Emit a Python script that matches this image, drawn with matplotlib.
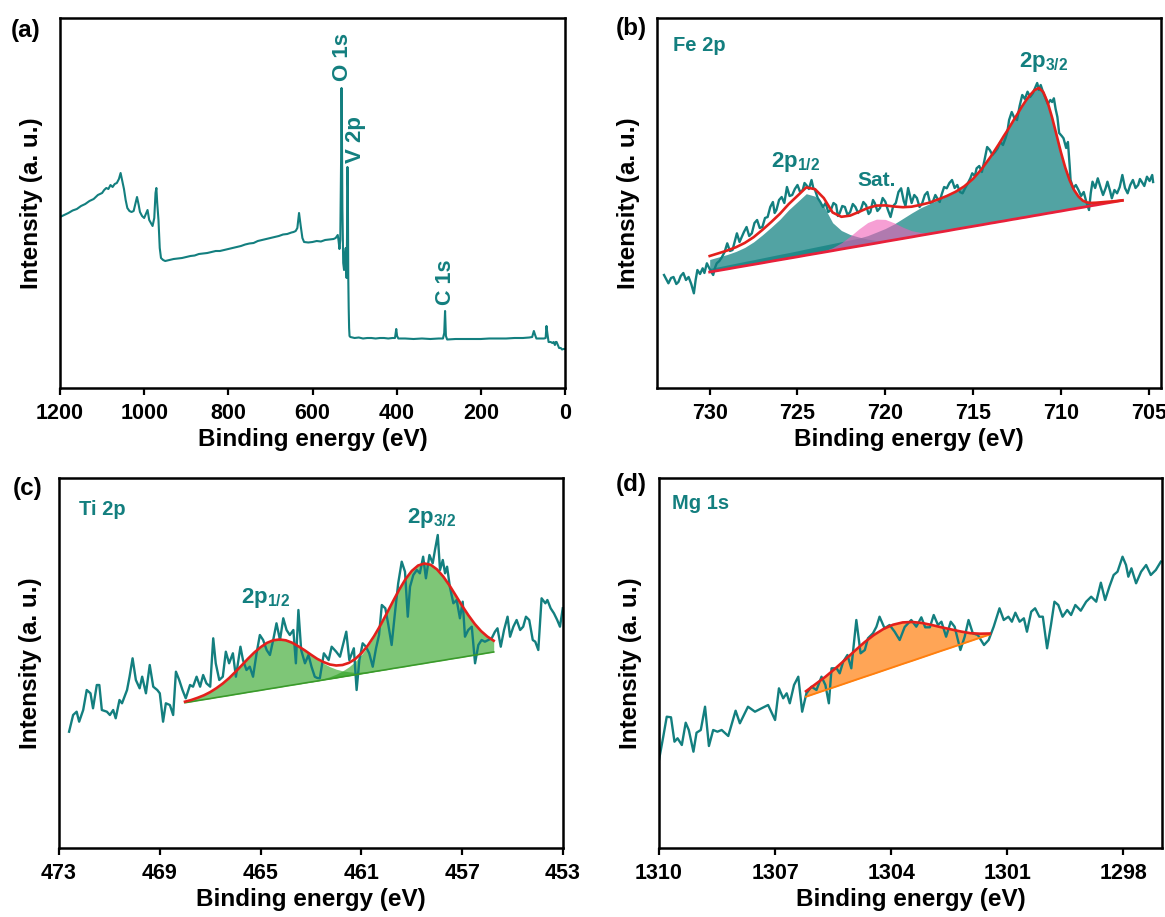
import matplotlib
matplotlib.use('Agg')
import matplotlib.pyplot as plt
import numpy as np

plt.rcParams['font.family'] = ['Liberation Sans', 'DejaVu Sans']
plt.rcParams['font.weight'] = 'bold'
plt.rcParams['mathtext.fontset'] = 'custom'
plt.rcParams['mathtext.rm'] = 'Liberation Sans:bold'
plt.rcParams['mathtext.bf'] = 'Liberation Sans:bold'
plt.rcParams['mathtext.it'] = 'Liberation Sans:bold'

# ---------------- (a) survey ----------------
survey_e = [1200, 1190, 1180, 1170, 1160, 1150, 1140, 1130, 1120, 1110, 1100, 1095, 1090, 1085,
            1080, 1075, 1070, 1065, 1060, 1056, 1052, 1048, 1044, 1040, 1035, 1030, 1025, 1020,
            1017, 1013, 1010, 1005, 1000, 996, 992, 988, 984, 980, 976, 973, 971, 969, 966, 963,
            960, 955, 950, 940, 930, 920, 910, 900, 890, 880, 870, 860, 850, 840, 830, 820, 810,
            800, 790, 780, 770, 760, 750, 740, 730, 720, 710, 700, 690, 680, 670, 660, 650, 645,
            640, 636, 632, 628, 624, 620, 610, 600, 590, 580, 570, 560, 550, 545, 540, 538, 536,
            534, 532, 531, 530, 529, 527, 525, 523, 521, 519, 518, 517, 516, 515, 514, 513, 512,
            510, 500, 490, 480, 470, 460, 450, 440, 430, 420, 410, 404, 401, 399, 396, 380, 360,
            340, 320, 300, 290, 287, 285, 283, 280, 260, 240, 220, 200, 180, 160, 140, 120, 100,
            85, 78, 74, 71, 68, 60, 50, 46, 44, 42, 39, 34, 30, 27, 24, 22, 20, 17, 14, 10, 7, 4, 0]
survey_i = [171, 173, 175, 177.5, 179, 182, 184, 187, 189, 193, 195, 198, 200, 199,
            203, 201, 204, 205, 209, 215, 207, 199, 188, 180, 177, 176, 177, 186,
            191, 183, 176, 172, 170, 174, 178, 168, 165, 162, 170, 195, 200, 185, 168, 140,
            130, 128, 127, 128, 129, 129.5, 130, 131, 132, 132.5, 134, 134.5, 135, 136, 137, 137, 138,
            139, 140, 141, 142, 143.5, 144.5, 145, 147, 148, 149, 150, 151, 152, 153.5, 154, 155.5, 156,
            157, 160, 175, 162, 150, 146, 145.5, 146, 147, 146.5, 148, 148.5, 149, 150, 153, 147, 139,
            148, 230, 300, 250, 180, 125, 118, 132, 140, 110, 150, 221, 200, 110, 80, 60, 52,
            51, 50, 50.5, 49.5, 50, 50, 49.5, 50, 50, 49.5, 50, 50, 59, 52, 49.5, 49.5, 49,
            49.5, 49, 49.5, 49.5, 55, 77, 52, 48.5, 49, 49, 49, 49, 49.5, 49.5, 49.5, 50, 50,
            50.5, 51, 57, 53, 49.5, 49.5, 49.5, 50, 62, 55, 46, 46, 45, 46, 43, 46, 46, 43, 40, 40, 38.5, 39, 39]

# ---------------- (b) Fe 2p ----------------
fe_raw = [
    (732.6, 113), (732.45, 108), (732.35, 104.7), (732.2, 110), (732.06, 111), (731.9, 104),
    (731.78, 106), (731.65, 112), (731.5, 115), (731.35, 108), (731.2, 111), (731.05, 104),
    (730.9, 94.7), (730.8, 108), (730.7, 118), (730.55, 114), (730.4, 119.7), (730.3, 115),
    (730.16, 124.7), (729.97, 118), (729.8, 113), (729.7, 120), (729.6, 124.7), (729.45, 127),
    (729.3, 131), (729.15, 136), (729.0, 144.7), (728.85, 137), (728.7, 138), (728.55, 148),
    (728.45, 154.7), (728.3, 146), (728.2, 150), (728.05, 156), (727.9, 161), (727.75, 152),
    (727.6, 154.7), (727.45, 165), (727.3, 168), (727.15, 160), (727.0, 161), (726.85, 170),
    (726.7, 171), (726.55, 181), (726.4, 186), (726.3, 175), (726.2, 178), (726.05, 188),
    (725.9, 191), (725.75, 185), (725.6, 201), (725.45, 192), (725.3, 193), (725.15, 199),
    (725.0, 203), (724.85, 196), (724.7, 198), (724.6, 205), (724.5, 203), (724.35, 199),
    (724.2, 208), (724.1, 200), (724.0, 198), (723.85, 190), (723.7, 186), (723.55, 181),
    (723.4, 185), (723.25, 176), (723.1, 178), (722.95, 185), (722.8, 183), (722.7, 172),
    (722.6, 174.7), (722.45, 182), (722.3, 181), (722.15, 173), (722.0, 176), (721.85, 184),
    (721.7, 181), (721.55, 175), (721.4, 178), (721.25, 186), (721.1, 183), (720.95, 174),
    (720.85, 176), (720.7, 188), (720.6, 185), (720.45, 177), (720.3, 180), (720.15, 190),
    (720.0, 186.3), (719.85, 178), (719.7, 171), (719.55, 182), (719.4, 185), (719.25, 196),
    (719.1, 199.7), (718.95, 187), (718.85, 182), (718.7, 200), (718.5, 185), (718.35, 193),
    (718.2, 190), (718.05, 181), (717.9, 184.7), (717.75, 193), (717.6, 196), (717.45, 185),
    (717.3, 186), (717.15, 193), (717.05, 190), (716.9, 186), (716.8, 193), (716.65, 201),
    (716.5, 199.7), (716.35, 205), (716.2, 208), (716.05, 200), (715.9, 203), (715.75, 196),
    (715.6, 194.7), (715.45, 200), (715.3, 204.7), (715.15, 210), (715.05, 214.7), (714.9, 212),
    (714.8, 219.7), (714.65, 222), (714.5, 216), (714.35, 228), (714.2, 241), (714.05, 238),
    (713.9, 233), (713.75, 236), (713.6, 239.7), (713.45, 246), (713.3, 243), (713.15, 250),
    (713.05, 256), (712.95, 268), (712.8, 276), (712.65, 270), (712.5, 268), (712.35, 282),
    (712.2, 293), (712.05, 289), (711.9, 296.3), (711.75, 291), (711.6, 294.7), (711.45, 301),
    (711.35, 305), (711.25, 298), (711.15, 303), (711.0, 295), (710.9, 291), (710.75, 284),
    (710.6, 288), (710.5, 286), (710.4, 289.7), (710.3, 279), (710.2, 271), (710.1, 255),
    (709.95, 252), (709.85, 249.7), (709.7, 240), (709.6, 246), (709.5, 222), (709.45, 208),
    (709.3, 199.7), (709.15, 203), (709.0, 198), (708.85, 192), (708.7, 196), (708.55, 186),
    (708.4, 178), (708.3, 195), (708.2, 206.3), (708.05, 200), (707.9, 209.7), (707.75, 201),
    (707.6, 193), (707.45, 200), (707.35, 206.3), (707.2, 197), (707.1, 189.7), (706.95, 198),
    (706.8, 194.7), (706.65, 201), (706.5, 213), (706.35, 200), (706.2, 194.7), (706.05, 203),
    (705.9, 208), (705.75, 200), (705.6, 203), (705.5, 209), (705.4, 206.3), (705.25, 202),
    (705.1, 211.3), (704.95, 207), (704.8, 213), (704.75, 206)]
fe_e = [p[0] for p in fe_raw]
fe_i = [p[1] for p in fe_raw]

fe_fit_e = [730.0, 729.5, 729.0, 728.5, 728.0, 727.5, 727.0, 726.5, 726.0, 725.5, 725.0, 724.5,
            724.0, 723.5, 723.0, 722.5, 722.0, 721.5, 721.0, 720.5, 720.0, 719.5, 719.0, 718.5,
            718.0, 717.5, 717.0, 716.5, 716.0, 715.5, 715.0, 714.5, 714.0, 713.75, 713.5, 713.25,
            713.0, 712.75, 712.5, 712.25, 712.0, 711.75, 711.5, 711.25, 711.0, 710.75, 710.5,
            710.25, 710.0, 709.75, 709.5, 709.25, 709.0, 708.75, 708.5, 708.25, 708.0, 707.5,
            707.0, 706.5]
fe_base = [116.0, 117.5, 119.0, 120.6, 122.1, 123.6, 125.1, 126.7, 128.2, 129.7, 131.2, 132.8,
           134.3, 135.8, 137.3, 138.9, 140.4, 141.9, 143.4, 144.9, 146.5, 148.0, 149.5, 151.0,
           152.6, 154.1, 155.6, 157.1, 158.7, 160.2, 161.7, 163.2, 164.8, 165.5, 166.3, 167.0,
           167.8, 168.6, 169.3, 170.1, 170.8, 171.6, 172.4, 173.1, 173.9, 174.7, 175.4,
           176.2, 176.9, 177.7, 178.5, 179.2, 180.0, 180.7, 181.5, 182.3, 183.0, 184.6,
           186.1, 187.6]
fe_p12 = [12.5, 13.5, 14.5, 16.0, 18.5, 22.5, 28.0, 34.0, 40.5, 48.5, 55.0, 61.5,
          57.5, 46.0, 28.0, 18.6, 13.0, 9.0, 5.5, 2.5, 1.0, 0.3, 0, 0,
          0, 0, 0, 0, 0, 0, 0, 0, 0, 0, 0, 0,
          0, 0, 0, 0, 0, 0, 0, 0, 0, 0, 0,
          0, 0, 0, 0, 0, 0, 0, 0, 0, 0, 0,
          0, 0]
fe_p32 = [3.5, 3.7, 4.0, 4.2, 4.5, 4.7, 5.0, 5.2, 5.5, 5.7, 6.0, 6.3,
          6.6, 6.9, 7.2, 7.4, 7.7, 8.0, 9.0, 11.0, 13.0, 16.0, 20.0, 24.0,
          27.5, 30.0, 32.5, 34.8, 37.5, 41.5, 47.5, 56.0, 66.5, 72.5, 78.5, 85.0,
          91.0, 97.5, 104.0, 110.5, 116.5, 121.5, 125.5, 127.0, 121.9, 110.7, 95.0,
          77.0, 58.9, 42.6, 29.1, 18.8, 11.5, 6.6, 4.0, 2.8, 2.3, 1.4,
          0.6, 0.0]
fe_sat = [0, 0, 0, 0, 0, 0, 0, 0, 0, 0, 0, 0,
          0.4, 1.2, 3.0, 6.3, 11.3, 17.2, 22.1, 24.0, 22.1, 17.2, 11.3, 6.3,
          3.0, 1.2, 0.4, 0.1, 0, 0, 0, 0, 0, 0, 0, 0,
          0, 0, 0, 0, 0, 0, 0, 0, 0, 0, 0,
          0, 0, 0, 0, 0, 0, 0, 0, 0, 0, 0,
          0, 0]

# ---------------- (c) Ti 2p ----------------
ti_raw = [
    (472.6, 116.3), (472.44, 133), (472.3, 136.3), (472.2, 126.3), (472.04, 138), (471.9, 158),
    (471.75, 154.7), (471.65, 139.7), (471.5, 163), (471.4, 163), (471.3, 138), (471.1, 136.3),
    (470.98, 133), (470.85, 138), (470.75, 129.7), (470.6, 148), (470.5, 144.7), (470.3, 158),
    (470.2, 171.3), (470.08, 189.7), (469.95, 168), (469.8, 159.7), (469.7, 171.3), (469.55, 154.7),
    (469.4, 183), (469.26, 161.3), (469.1, 158), (469.0, 154.7), (468.87, 126.3), (468.76, 144.7),
    (468.6, 143), (468.47, 133), (468.36, 176.3), (468.23, 168), (468.1, 158), (467.97, 149.7),
    (467.8, 163), (467.68, 161.3), (467.54, 171.3), (467.4, 161.3), (467.28, 173), (467.15, 164.7),
    (467.0, 161.3), (466.88, 209.7), (466.78, 184.7), (466.64, 168), (466.5, 171.3), (466.38, 196.3),
    (466.25, 184.7), (466.1, 194.7), (465.98, 171.3), (465.8, 201.3), (465.7, 188), (465.56, 178),
    (465.43, 181.3), (465.3, 171.3), (465.16, 194.7), (465.03, 213), (464.9, 208), (464.76, 198),
    (464.63, 193), (464.5, 208), (464.37, 224.7), (464.23, 208), (464.1, 229.7), (463.97, 218),
    (463.84, 213), (463.7, 218), (463.6, 184.7), (463.5, 238), (463.39, 198), (463.24, 184.7),
    (463.1, 193), (462.98, 181.3), (462.85, 171.3), (462.75, 170), (462.65, 169.7), (462.49, 194.7),
    (462.3, 188), (462.18, 201.3), (462.0, 196.3), (461.85, 191.3), (461.75, 201.3), (461.6, 216.3),
    (461.48, 188), (461.3, 199.7), (461.19, 158), (461.08, 188), (460.95, 204.7), (460.82, 201.3),
    (460.69, 194.7), (460.55, 181.3), (460.42, 199.7), (460.3, 213), (460.19, 243), (460.05, 239.7),
    (459.93, 223), (459.8, 203), (459.67, 234.7), (459.54, 264.7), (459.4, 286.3), (459.27, 276.3),
    (459.16, 231.3), (459.07, 261.3), (458.94, 273), (458.8, 278), (458.68, 274.7), (458.55, 291.3),
    (458.44, 269.7), (458.3, 293), (458.17, 284.7), (458.08, 298), (457.97, 313), (457.88, 278),
    (457.77, 288), (457.68, 274.7), (457.6, 281.3), (457.49, 261.3), (457.35, 244.7), (457.22, 248),
    (457.09, 229.7), (456.98, 246.3), (456.89, 211.3), (456.76, 218), (456.62, 221.3), (456.49, 184.7),
    (456.36, 203), (456.23, 208), (456.1, 206.3), (455.96, 208), (455.83, 209.7), (455.7, 216.3),
    (455.6, 219.7), (455.47, 201.3), (455.34, 218), (455.2, 231.3), (455.1, 211.3), (454.97, 221.3),
    (454.84, 228), (454.7, 218), (454.58, 221.3), (454.47, 231.3), (454.34, 228), (454.2, 208),
    (454.1, 206.3), (453.98, 198), (453.85, 249.7), (453.7, 244.7), (453.62, 248), (453.49, 239.7),
    (453.36, 234.7), (453.23, 228), (453.12, 221.3), (453.01, 239.7)]
ti_e = [p[0] for p in ti_raw]
ti_i = [p[1] for p in ti_raw]

ti_fit_e = [468.00, 467.75, 467.50, 467.25, 467.00, 466.75, 466.50, 466.25, 466.00, 465.75,
            465.50, 465.25, 465.00, 464.75, 464.50, 464.25, 464.00, 463.75, 463.50, 463.25,
            463.00, 462.75, 462.50, 462.25, 462.00, 461.75, 461.50, 461.25, 461.00, 460.75,
            460.50, 460.25, 460.00, 459.75, 459.50, 459.25, 459.00, 458.75, 458.50, 458.25,
            458.00, 457.75, 457.50, 457.25, 457.00, 456.75, 456.50, 456.25, 456.00, 455.75]
ti_base = [145.3, 146.3, 147.4, 148.4, 149.4, 150.5, 151.5, 152.5, 153.6, 154.6,
           155.7, 156.7, 157.7, 158.8, 159.8, 160.8, 161.9, 162.9, 163.9, 165.0,
           166.0, 167.0, 168.1, 169.1, 170.1, 171.2, 172.2, 173.2, 174.3, 175.3,
           176.4, 177.4, 178.4, 179.5, 180.5, 181.5, 182.6, 183.6, 184.6, 185.7,
           186.7, 187.7, 188.8, 189.8, 190.8, 191.9, 192.9, 193.9, 195.0, 196.0]
ti_p12 = [1.0, 1.7, 2.8, 4.3, 6.5, 9.4, 13.0, 17.4, 22.5, 28.0,
          33.6, 38.8, 43.1, 46.3, 47.9, 47.7, 45.8, 42.4, 37.8, 32.5,
          26.9, 21.4, 16.5, 12.2, 8.7, 6.0, 4.0, 2.5, 1.6, 0.9,
          0.5, 0.3, 0.1, 0, 0, 0, 0, 0, 0, 0,
          0, 0, 0, 0, 0, 0, 0, 0, 0, 0]
ti_p32 = [0, 0, 0, 0, 0, 0, 0, 0, 0, 0,
          0, 0, 0, 0, 0, 0, 0, 0, 0, 0.2,
          0.4, 0.7, 1.3, 2.2, 3.7, 5.8, 8.9, 13.2, 18.9, 26.1,
          34.8, 44.8, 55.8, 67.0, 77.8, 87.3, 94.5, 98.9, 99.9, 97.5,
          91.9, 83.7, 73.6, 62.5, 51.3, 40.7, 31.1, 23.0, 16.4, 11.3]

# ---------------- (d) Mg 1s ----------------
mg_raw = [
    (1310.0, 88), (1309.89, 111.3), (1309.8, 131.3), (1309.69, 130.7), (1309.6, 106.3),
    (1309.52, 109.7), (1309.41, 103), (1309.31, 125.3), (1309.23, 118), (1309.11, 96.3),
    (1309.03, 115.3), (1308.92, 118), (1308.81, 141.3), (1308.71, 102), (1308.6, 118),
    (1308.49, 116.3), (1308.38, 118), (1308.21, 112), (1308.02, 137.3), (1307.91, 124.7),
    (1307.7, 141.3), (1307.52, 136.3), (1307.35, 139.7), (1307.18, 143), (1307.0, 128),
    (1306.9, 159.7), (1306.79, 149.7), (1306.7, 154.7), (1306.62, 144.7), (1306.51, 163),
    (1306.4, 171.3), (1306.3, 136.3), (1306.19, 154.7), (1306.06, 161.3), (1305.93, 158),
    (1305.8, 171.3), (1305.7, 163), (1305.61, 144.7), (1305.54, 179.7), (1305.41, 179.7),
    (1305.33, 174.7), (1305.24, 186.3), (1305.13, 193), (1305.03, 179.7), (1304.9, 228),
    (1304.79, 194.7), (1304.68, 198), (1304.6, 209.7), (1304.47, 214.7), (1304.38, 221.3),
    (1304.3, 231.3), (1304.17, 219.7), (1304.04, 223), (1303.91, 216.3), (1303.78, 208),
    (1303.65, 221), (1303.48, 228), (1303.35, 221.3), (1303.22, 230.7), (1303.12, 220.7),
    (1303.0, 220.7), (1302.9, 233), (1302.79, 223), (1302.7, 226.3), (1302.58, 211.3),
    (1302.46, 226.3), (1302.36, 221.3), (1302.21, 198), (1302.1, 211.3), (1302.0, 228),
    (1301.89, 214.7), (1301.76, 213), (1301.6, 203), (1301.48, 208), (1301.35, 221.3),
    (1301.2, 239.7), (1301.09, 228), (1300.97, 231.3), (1300.88, 226.3), (1300.79, 235.3),
    (1300.68, 226.3), (1300.57, 229.7), (1300.49, 216.3), (1300.38, 236.3), (1300.28, 239.7),
    (1300.17, 231.3), (1300.08, 231.3), (1299.97, 199.7), (1299.87, 223), (1299.78, 246.3),
    (1299.68, 243), (1299.57, 231.3), (1299.45, 238), (1299.35, 233), (1299.24, 243),
    (1299.1, 237.3), (1298.96, 246.3), (1298.83, 251.3), (1298.7, 246.3), (1298.58, 265.3),
    (1298.47, 248), (1298.36, 261.3), (1298.25, 273), (1298.15, 276.3), (1298.02, 291.3),
    (1297.93, 283), (1297.87, 271.3), (1297.79, 279.7), (1297.67, 264.7), (1297.54, 276.3),
    (1297.41, 283), (1297.29, 273), (1297.16, 278), (1297.03, 286.3)]
mg_e = [p[0] for p in mg_raw]
mg_i = [p[1] for p in mg_raw]

mg_fit_e = [1306.20, 1305.95, 1305.70, 1305.45, 1305.20, 1304.95, 1304.70, 1304.45, 1304.20, 1303.95,
            1303.70, 1303.45, 1303.20, 1302.95, 1302.70, 1302.45, 1302.20, 1301.95, 1301.70, 1301.45]
mg_base = [151.3, 154.6, 157.9, 161.1, 164.4, 167.7, 171.0, 174.2, 177.5, 180.8,
           184.1, 187.3, 190.6, 193.9, 197.2, 200.4, 203.7, 207.0, 210.3, 213.5]
mg_peak = [5.5, 9.4, 13.3, 18.2, 23.5, 29.1, 34.4, 38.7, 41.5, 42.5,
           41.5, 38.7, 34.4, 29.1, 23.5, 18.2, 12.8, 7.8, 4.0, 1.0]

# ---------------- styling ----------------
TEAL = '#137f7f'
RED = '#e3201c'
W, H = 1165.0, 917.0
fig = plt.figure(figsize=(11.65, 9.17), dpi=100)

def make_ax(l, r, t, b):
    ax = fig.add_axes([l / W, 1 - b / H, (r - l) / W, (b - t) / H])
    ax.set_ylim(0, 370)
    ax.set_yticks([])
    for s in ax.spines.values():
        s.set_linewidth(1.8)
    ax.tick_params(axis='x', direction='out', length=5, width=1.6, labelsize=15.5, pad=6)
    ax.set_xlabel('Binding energy (eV)', fontsize=17.5, fontweight='bold', labelpad=3)
    ax.set_ylabel('Intensity (a. u.)', fontsize=17.5, fontweight='bold', labelpad=12)
    return ax

axA = make_ax(60, 565, 18, 388)
axB = make_ax(657, 1161, 18, 388)
axC = make_ax(59, 563, 478, 848)
axD = make_ax(659, 1162, 478, 848)

# (a)
axA.plot(survey_e, survey_i, color=TEAL, lw=1.5)
axA.set_xlim(1200, 0)
axA.set_xticks([1200, 1000, 800, 600, 400, 200, 0])
axA.text(528, 331, 'O 1s', rotation=90, color=TEAL, fontsize=16, fontweight='bold', ha='center', va='center')
axA.text(498, 248, 'V 2p', rotation=90, color=TEAL, fontsize=16, fontweight='bold', ha='center', va='center')
axA.text(284, 106, 'C 1s', rotation=90, color=TEAL, fontsize=15.5, fontweight='bold', ha='center', va='center')

# (b)
fb = np.array(fe_base)
p12 = np.array(fe_p12); p32 = np.array(fe_p32); sat = np.array(fe_sat)
axB.fill_between(fe_fit_e, fb, fb + p32, color='#0f8080', alpha=0.72, lw=0)
axB.fill_between(fe_fit_e, fb, fb + p12, color='#0f8080', alpha=0.72, lw=0)
axB.fill_between(fe_fit_e, fb, fb + sat, color='#f060b8', alpha=0.6, lw=0)
axB.plot(fe_e, fe_i, color=TEAL, lw=1.7)
axB.plot(fe_fit_e, fb, color='#e8203a', lw=2.0)
axB.plot(fe_fit_e, fb + p12 + p32 + sat, color=RED, lw=1.9)
axB.set_xlim(733, 704.3)
axB.set_xticks([730, 725, 720, 715, 710, 705])
axB.text(0.032, 0.925, 'Fe 2p', transform=axB.transAxes, color=TEAL, fontsize=14.5, fontweight='bold', ha='left', va='center')
axB.text(711.0, 326, r'$\mathbf{2p_{3/2}}$', color=TEAL, fontsize=16, ha='center', va='center')
axB.text(725.1, 226, r'$\mathbf{2p_{1/2}}$', color=TEAL, fontsize=16, ha='center', va='center')
axB.text(720.5, 208, 'Sat.', color=TEAL, fontsize=15, fontweight='bold', ha='center', va='center')

# (c)
tb = np.array(ti_base)
t12 = np.array(ti_p12); t32 = np.array(ti_p32)
axC.plot(ti_e, ti_i, color=TEAL, lw=1.7)
axC.fill_between(ti_fit_e, tb, tb + t12, color='#28a01c', alpha=0.6, lw=0)
axC.fill_between(ti_fit_e, tb, tb + t32, color='#28a01c', alpha=0.6, lw=0)
axC.plot(ti_fit_e, tb, color='#3a9a2a', lw=1.2)
axC.plot(ti_fit_e, tb + t12 + t32, color=RED, lw=1.9)
axC.set_xlim(473, 453)
axC.set_xticks([473, 469, 465, 461, 457, 453])
axC.text(0.04, 0.915, 'Ti 2p', transform=axC.transAxes, color=TEAL, fontsize=14.5, fontweight='bold', ha='left', va='center')
axC.text(464.8, 250, r'$\mathbf{2p_{1/2}}$', color=TEAL, fontsize=16, ha='center', va='center')
axC.text(458.2, 330, r'$\mathbf{2p_{3/2}}$', color=TEAL, fontsize=16, ha='center', va='center')

# (d)
mb = np.array(mg_base); mp = np.array(mg_peak)
axD.plot(mg_e, mg_i, color=TEAL, lw=1.7)
axD.fill_between(mg_fit_e, mb, mb + mp, color='#ff7f0e', alpha=0.7, lw=0)
axD.plot(mg_fit_e, mb, color='#ff7f0e', lw=1.4)
axD.plot(mg_fit_e, mb + mp, color=RED, lw=1.9)
axD.set_xlim(1310, 1297)
axD.set_xticks([1310, 1307, 1304, 1301, 1298])
axD.text(0.025, 0.93, 'Mg 1s', transform=axD.transAxes, color=TEAL, fontsize=14.5, fontweight='bold', ha='left', va='center')

for lbl, x, y in [('(a)', 26, 30), ('(b)', 631, 28), ('(c)', 28, 488), ('(d)', 631, 485)]:
    fig.text(x / W, 1 - y / H, lbl, fontsize=17.5, fontweight='bold', ha='center', va='center')

fig.savefig('out.png', dpi=100)
